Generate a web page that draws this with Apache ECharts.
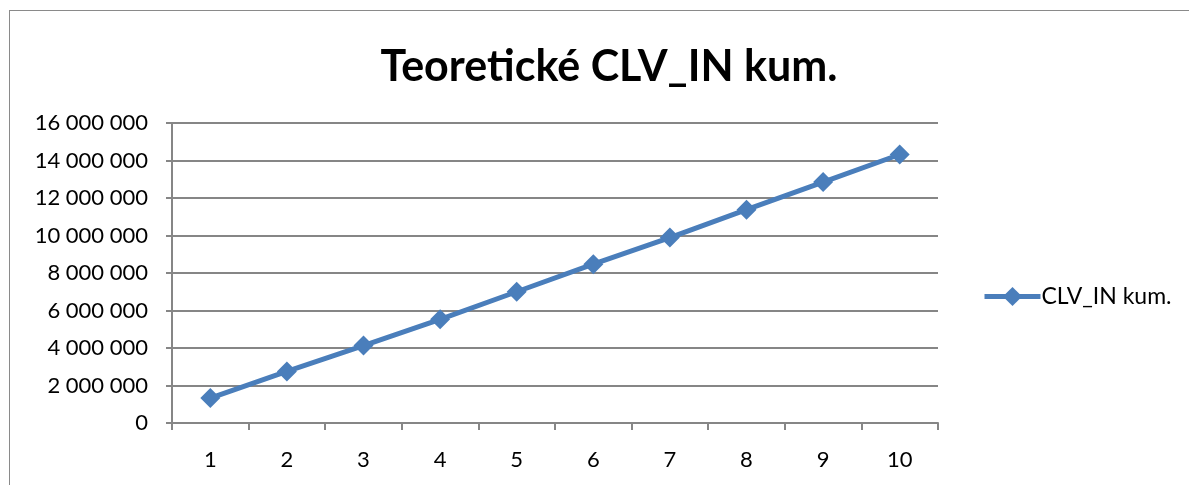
<!DOCTYPE html>
<html>
<head>
<meta charset="utf-8">
<script src="https://cdn.jsdelivr.net/npm/echarts@6/dist/echarts.min.js"></script>
<style>
  html, body { margin: 0; padding: 0; background: #fff; }
  #frame {
    position: absolute; left: 9px; top: 10px;
    width: 1200px; height: 500px;
    border: 1px solid #8a8a8a; box-sizing: border-box;
  }
  #chart { position: absolute; left: 0; top: 0; width: 1189px; height: 485px; }
</style>
</head>
<body>
<div id="frame"></div>
<div id="chart"></div>
<script>
const categories = ['1', '2', '3', '4', '5', '6', '7', '8', '9', '10']
const clvInKum = [1330000, 2750000, 4130000, 5530000, 7000000, 8470000, 9890000, 11380000, 12850000, 14320000]
const seriesName = 'CLV_IN kum.'
const titleText = 'Teoretické CLV_IN kum.'

const fontFamily = 'Lato, "Open Sans", sans-serif'
const fmt = (v) => String(v).replace(/\B(?=(\d{3})+(?!\d))/g, ' ')

const chart = echarts.init(document.getElementById('chart'), null, { renderer: 'canvas' })
chart.setOption({
  animation: false,
  backgroundColor: 'transparent',
  title: {
    text: titleText,
    left: 604,
    top: 41,
    textAlign: 'center',
    textStyle: { fontFamily, fontSize: 43, fontWeight: 'bold', color: '#000' },
  },
  legend: {
    data: [seriesName],
    left: 977,
    top: 280,
    itemWidth: 56,
    itemHeight: 24,
    itemGap: 2,
    lineStyle: { width: 5 },
    textStyle: { fontFamily, fontSize: 23, color: '#000', padding: [0, 0, 0, -4] },
  },
  grid: { left: 172, right: 251, top: 123, bottom: 62, containLabel: false },
  xAxis: {
    type: 'category',
    data: categories,
    boundaryGap: true,
    axisLine: { lineStyle: { color: '#868686', width: 2 } },
    axisTick: { show: true, length: 7, lineStyle: { color: '#868686', width: 2 } },
    axisLabel: { fontFamily, fontSize: 22, color: '#000', margin: 26 },
    splitLine: { show: false },
  },
  yAxis: {
    type: 'value',
    min: 0,
    max: 16000000,
    interval: 2000000,
    axisLine: { show: true, lineStyle: { color: '#868686', width: 2 } },
    axisTick: { show: true, length: 6, lineStyle: { color: '#868686', width: 2 } },
    axisLabel: { fontFamily, fontSize: 22, color: '#000', margin: 24, formatter: fmt },
    splitLine: { lineStyle: { color: '#868686', width: 2 } },
  },
  series: [
    {
      name: seriesName,
      type: 'line',
      data: clvInKum,
      symbol: 'diamond',
      symbolSize: [20, 20],
      itemStyle: { color: '#4a7ebb' },
      lineStyle: { color: '#4a7ebb', width: 5 },
      emphasis: { disabled: true },
    },
  ],
})
</script>
</body>
</html>
